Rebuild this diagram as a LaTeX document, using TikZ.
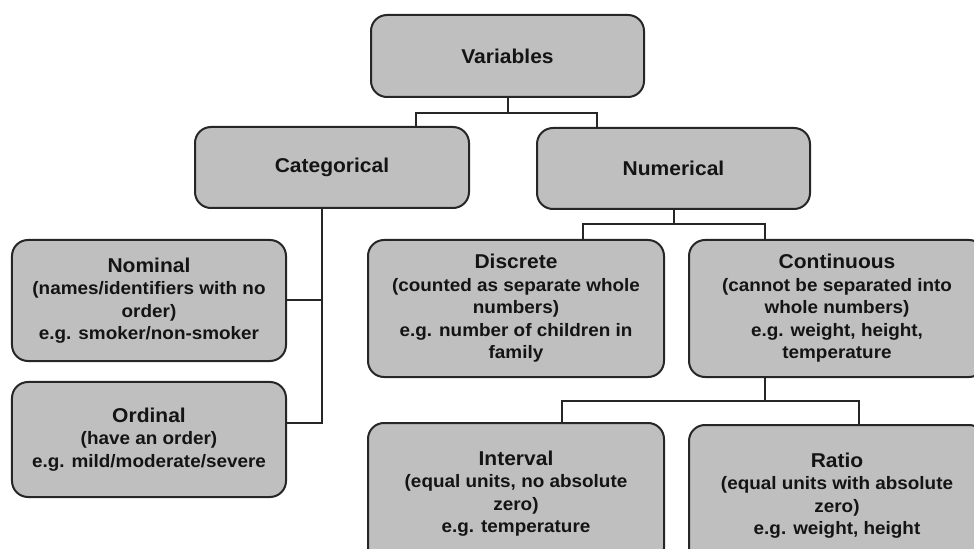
\documentclass[tikz,border=0pt]{standalone}
\usepackage{fontspec}
\setmainfont{Liberation Sans}[FakeStretch=1.05]
\usetikzlibrary{calc}
\definecolor{boxfill}{HTML}{BFBFBF}
\definecolor{boxline}{HTML}{262626}
\definecolor{inkc}{HTML}{141414}
\newcommand{\ttl}[1]{{\fontsize{20bp}{22.5bp}\selectfont\bfseries #1}}
\tikzset{
  box/.style={draw=boxline, line width=2bp, fill=boxfill, rounded corners=16bp,
    inner sep=0pt, align=center, text=inkc,
    font=\fontsize{18bp}{22.5bp}\selectfont\bfseries},
  conn/.style={draw=boxline, line width=2bp},
}
\begin{document}
\begin{tikzpicture}[x=1bp, y=-1bp]
\useasboundingbox (0,0) rectangle (974,549);
\clip (0,0) rectangle (974,549);

% top level
\node[box, minimum width=273bp, minimum height=82bp] (var) at (507.5,56) {\ttl{Variables}};
\node[box, minimum width=274bp, minimum height=81bp] (cat) at (332,167.5) {\ttl{Categorical}};
\node[box, minimum width=273bp, minimum height=81bp] (num) at (673.5,168.5) {\ttl{Numerical}};

% categorical branch
\node[box, minimum width=274bp, minimum height=121bp] (nom) at (149,300.5)
  {\ttl{Nominal}\\(names/identifiers with no\\order)\\e.g. smoker/non-smoker};
\node[box, minimum width=274bp, minimum height=115bp] (ord) at (149,439.5)
  {\ttl{Ordinal}\\(have an order)\\e.g. mild/moderate/severe};

% numerical branch
\node[box, minimum width=296bp, minimum height=137bp] (dis) at (516,308.5)
  {\ttl{Discrete}\\(counted as separate whole\\numbers)\\e.g. number of children in\\family};
\node[box, minimum width=296bp, minimum height=137bp] (con) at (837,308.5)
  {\ttl{Continuous}\\(cannot be separated into\\whole numbers)\\e.g. weight, height,\\temperature};
\node[box, minimum width=296bp, minimum height=141bp] (int) at (516,493.5)
  {\ttl{Interval}\\(equal units, no absolute\\zero)\\e.g. temperature};
\node[box, minimum width=296bp, minimum height=141bp] (rat) at (837,495.5)
  {\ttl{Ratio}\\(equal units with absolute\\zero)\\e.g. weight, height};

% attachment points on the box edges
\coordinate (catin) at ($(cat.north west)!0.803!(cat.north east)$);
\coordinate (numin) at ($(num.north west)!0.223!(num.north east)$);
\coordinate (catout) at ($(cat.south west)!0.464!(cat.south east)$);
\coordinate (ordin) at ($(ord.north east)!0.357!(ord.south east)$);
\coordinate (disin) at ($(dis.north west)!0.726!(dis.north east)$);
\coordinate (conin) at ($(con.north west)!0.26!(con.north east)$);
\coordinate (conout) at ($(con.south west)!0.26!(con.south east)$);
\coordinate (intin) at ($(int.north west)!0.655!(int.north east)$);
\coordinate (ratin) at ($(rat.north west)!0.574!(rat.north east)$);

% connectors
\draw[conn] (var.south) -- ++(0,15) coordinate (j1);
\draw[conn] (catin) |- (j1) -| (numin);

\draw[conn] (catout) |- (ordin);
\draw[conn] (nom.east) -- (nom.east -| catout);

\draw[conn] (num.south) -- ++(0,14) coordinate (j2);
\draw[conn] (disin) |- (j2) -| (conin);

\draw[conn] (conout) -- ++(0,23) coordinate (j3);
\draw[conn] (intin) |- (j3) -| (ratin);
\end{tikzpicture}
\end{document}
